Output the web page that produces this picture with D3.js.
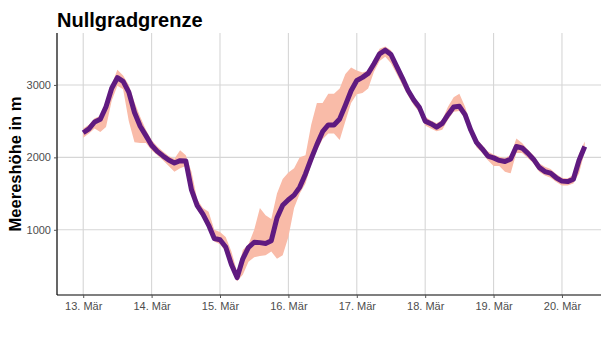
<!DOCTYPE html>
<html>
<head>
<meta charset="utf-8">
<script src="https://cdn.jsdelivr.net/npm/d3@7"></script>
<style>
  html, body { margin: 0; padding: 0; background: #fff; }
  svg { display: block; font-family: "Liberation Sans", Arial, sans-serif; }
</style>
</head>
<body>
<svg id="chart" width="616" height="339"></svg>
<script>
// Freezing level forecast, 2-hourly from 13 March 00:00
const startTime = "2024-03-13T00:00:00";
const stepHours = 2;
const freezingLevel = [
  2340, 2393, 2488, 2525, 2700, 2954, 3100, 3050, 2900, 2620,
  2430, 2300, 2168, 2083, 2020, 1963, 1922, 1955, 1950, 1550,
  1334, 1216, 1065, 880, 862, 763, 521, 340, 600, 756,
  828, 823, 812, 850, 1165, 1338, 1415, 1479, 1590, 1771,
  1981, 2176, 2355, 2448, 2448, 2531, 2720, 2920, 3062, 3104,
  3160, 3290, 3430, 3480, 3420, 3257, 3095, 2923, 2792, 2687,
  2500, 2465, 2417, 2470, 2589, 2696, 2705, 2590, 2377, 2207,
  2118, 2018, 1993, 1958, 1942, 1978, 2150, 2130, 2059, 1975,
  1862, 1804, 1783, 1718, 1672, 1666, 1698, 1960, 2150
];
const rangeLow = [
  2270, 2330, 2400, 2350, 2420, 2780, 2990, 2940, 2500, 2210,
  2200, 2200, 2100, 2030, 1960, 1880, 1800, 1850, 1880, 1490,
  1280, 1160, 1000, 840, 800, 700, 460, 290, 380, 560,
  620, 640, 650, 700, 600, 650, 900, 1300, 1500, 1640,
  1900, 2100, 2250, 2330, 2330, 2240, 2500, 2750, 2870, 2890,
  2950, 3180, 3330, 3390, 3300, 3150, 3000, 2850, 2720, 2620,
  2440, 2400, 2360, 2380, 2520, 2630, 2640, 2530, 2320, 2140,
  2060, 1960, 1880, 1880, 1800, 1780, 2060, 2060, 1990, 1920,
  1800, 1750, 1720, 1660, 1610, 1610, 1640, 1780, 2080
];
const rangeHigh = [
  2400, 2450, 2540, 2570, 2760, 3010, 3210, 3130, 3000, 2760,
  2560, 2380, 2240, 2150, 2080, 2020, 1980, 2100, 2030, 1800,
  1420, 1300, 1250, 1000, 970, 900, 700, 420, 720, 800,
  1000, 1300, 1200, 1150, 1500, 1700, 1790, 1850, 2000, 2030,
  2450, 2750, 2750, 2880, 2880, 2950, 3150, 3240, 3200, 3170,
  3200, 3330, 3500, 3530, 3480, 3300, 3150, 2980, 2840, 2740,
  2560, 2510, 2470, 2520, 2700, 2830, 2880, 2700, 2450, 2260,
  2170, 2080, 2040, 2010, 1990, 2030, 2260, 2200, 2110, 2030,
  1920, 1870, 1840, 1770, 1720, 1710, 1760, 2050, 2220
];
const xTickLabels = ["13. Mär", "14. Mär", "15. Mär", "16. Mär", "17. Mär", "18. Mär", "19. Mär", "20. Mär"];
const yTicks = [1000, 2000, 3000];
const yDomain = [100, 3717];

const t0 = new Date(startTime);
const data = freezingLevel.map((v, i) => ({
  t: d3.timeHour.offset(t0, i * stepHours),
  v: v,
  lo: rangeLow[i],
  hi: rangeHigh[i]
}));
const tickDates = xTickLabels.map((_, i) => d3.timeDay.offset(t0, i));

const svg = d3.select("#chart");
const plotLeft = 57, plotRight = 601, plotTop = 33, plotBottom = 295;

const x = d3.scaleTime()
  .domain([d3.timeMinute.offset(t0, -552), d3.timeMinute.offset(t0, 10902)])
  .range([plotLeft, plotRight]);
const y = d3.scaleLinear().domain(yDomain).range([plotBottom, plotTop]);

// grid
const grid = svg.append("g");
grid.selectAll("line.gx").data(tickDates).join("line")
  .attr("x1", d => x(d)).attr("x2", d => x(d))
  .attr("y1", plotTop).attr("y2", plotBottom)
  .attr("stroke", "#d6d6d6").attr("stroke-width", 1.1);
grid.selectAll("line.gy").data(yTicks).join("line")
  .attr("x1", plotLeft).attr("x2", plotRight)
  .attr("y1", d => y(d)).attr("y2", d => y(d))
  .attr("stroke", "#d6d6d6").attr("stroke-width", 1.1);

// spread band
svg.append("path")
  .datum(data)
  .attr("fill", "#f9bba8")
  .attr("d", d3.area().x(d => x(d.t)).y0(d => y(d.lo)).y1(d => y(d.hi)));

// main line
svg.append("path")
  .datum(data)
  .attr("fill", "none")
  .attr("stroke", "#5f1a80")
  .attr("stroke-width", 5)
  .attr("stroke-linejoin", "round")
  .attr("stroke-linecap", "butt")
  .attr("d", d3.line().x(d => x(d.t)).y(d => y(d.v)));

// axes
const xAxis = svg.append("g")
  .attr("transform", `translate(0,${plotBottom})`)
  .call(d3.axisBottom(x).tickValues(tickDates).tickFormat((d, i) => xTickLabels[i]).tickSize(3).tickPadding(4));
const yAxis = svg.append("g")
  .attr("transform", `translate(${plotLeft},0)`)
  .call(d3.axisLeft(y).tickValues(yTicks).tickFormat(d3.format("d")).tickSize(3).tickPadding(3));

[xAxis, yAxis].forEach(g => {
  g.select(".domain").attr("stroke", "#000").attr("stroke-width", 1.2);
  g.selectAll(".tick line").attr("stroke", "#555");
  g.selectAll(".tick text").attr("fill", "#4d4d4d").style("font-size", "11px")
    .style("font-family", "'Liberation Sans', Arial, sans-serif");
});
xAxis.select(".domain").attr("d", `M${plotLeft},0H${plotRight}`);
yAxis.select(".domain").attr("d", `M0,${plotTop}V${plotBottom}`);

// titles
svg.append("text")
  .attr("x", 57).attr("y", 27)
  .style("font-size", "20px").style("font-weight", "bold").attr("fill", "#000")
  .text("Nullgradgrenze");

svg.append("text")
  .attr("transform", `translate(21,${(plotTop + plotBottom) / 2}) rotate(-90)`)
  .attr("text-anchor", "middle")
  .style("font-size", "16.5px").style("font-weight", "bold").attr("fill", "#000")
  .text("Meereshöhe in m");
</script>
</body>
</html>
